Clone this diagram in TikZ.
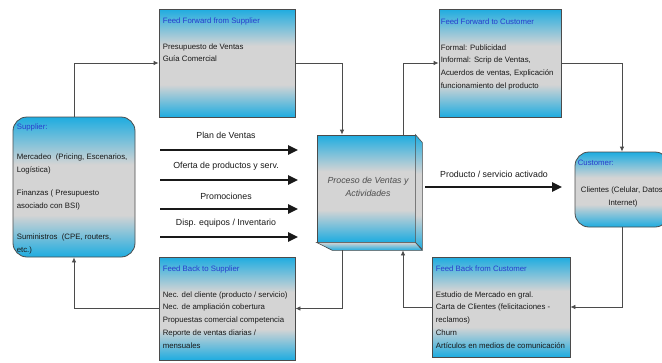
\documentclass[tikz,border=0pt]{standalone}
\usepackage{fontspec}
\setmainfont{Liberation Sans}
\usetikzlibrary{arrows.meta,calc}

\definecolor{boxcyan}{RGB}{30,172,224}
\definecolor{boxgray}{RGB}{212,212,212}
\definecolor{edge}{RGB}{75,75,75}
\definecolor{titleblue}{RGB}{40,60,205}
\definecolor{ink}{RGB}{25,25,25}

% cyan at both ends, a broad grey band in the middle
\pgfdeclareverticalshading{panelshade}{100bp}{%
  color(0bp)=(boxcyan); color(25bp)=(boxcyan);
  color(40bp)=(boxgray); color(58bp)=(boxgray);
  color(75bp)=(boxcyan); color(100bp)=(boxcyan)}

\begin{document}
\begin{tikzpicture}[x=1pt,y=-1pt,
  panel/.style={draw=edge, line width=0.8pt, shading=panelshade, inner sep=0pt},
  rpanel/.style={panel, rounded corners=14pt},
  txt/.style={font=\fontsize{7.8}{12.8}\selectfont, text=ink, align=left,
    inner sep=0pt, anchor=north west},
  flow/.style={draw=edge, line width=0.8pt, -{Latex[length=5pt,width=4.5pt]}},
  bigflow/.style={draw=ink, line width=2.4pt,
    -{Triangle[length=10pt,width=9pt]}},
  lbl/.style={font=\fontsize{8.8}{10}\selectfont, text=ink, inner sep=0pt}]

\useasboundingbox (0,0) rectangle (662,362);
\clip (0,0) rectangle (662,362);
\fill[white] (0,0) rectangle (662,362);

% ---- panels ----
\node[rpanel, minimum width=122pt, minimum height=140pt] (sup) at (74,187) {};
\node[panel, minimum width=136pt, minimum height=108pt] (ffs) at (227,63) {};
\node[panel, minimum width=136pt, minimum height=103pt] (fbs) at (227,308.5) {};
\node[panel, minimum width=122pt, minimum height=108pt] (ffc) at (500,63) {};
\node[panel, minimum width=138pt, minimum height=100pt] (fbc) at (501,307) {};
\node[rpanel, minimum width=94pt, minimum height=75pt] (cust) at (622,189.5) {};

% ---- process block with depth ----
\node[panel, minimum width=98pt, minimum height=107pt] (proc) at (366,188.5) {};
\shade[draw=edge, line width=0.6pt, shading=panelshade]
  (proc.north east) -- ++(7,8) -- ++(0,107) -- (proc.south east) -- cycle;
\shade[draw=edge, line width=0.6pt, top color=boxgray, bottom color=boxcyan]
  (proc.south west) -- (proc.south east) -- ++(7,8) -- ++(-90,0) -- cycle;
\node[font=\fontsize{8.8}{13}\selectfont\itshape, text=black!70, align=center]
  (proc-t) at (368,187) {Proceso de Ventas y\\Actividades};

% ---- panel texts ----
\node[txt] (sup-t) at ([shift={(4,7)}]sup.north west)
  {\textcolor{titleblue}{Supplier:}\\[17pt]
   Mercadeo\ \ (Pricing, Escenarios,\\
   Logística)\\[11pt]
   Finanzas ( Presupuesto\\
   asociado con BSI)\\[18pt]
   Suministros\ \ (CPE, routers,\\
   etc.)};

\node[txt] (ffs-t) at ([shift={(4,9)}]ffs.north west)
  {\textcolor{titleblue}{Feed Forward from Supplier}\\[12.8pt]
   Presupuesto de Ventas\\
   Guía Comercial};

\node[txt] (fbs-t) at ([shift={(4,9)}]fbs.north west)
  {\textcolor{titleblue}{Feed Back to Supplier}\\[12.8pt]
   Nec. del cliente (producto / servicio)\\
   Nec. de ampliación cobertura\\
   Propuestas comercial competencia\\
   Reporte de ventas diarias /\\
   mensuales};

\node[txt] (ffc-t) at ([shift={(2,10)}]ffc.north west)
  {\textcolor{titleblue}{Feed Forward to Customer}\\[12.8pt]
   Formal: Publicidad\\
   Informal: Scrip de Ventas,\\
   Acuerdos de ventas, Explicación\\
   funcionamiento del producto};

\node[txt] (fbc-t) at ([shift={(4,9)}]fbc.north west)
  {\textcolor{titleblue}{Feed Back from Customer}\\[12.8pt]
   Estudio de Mercado en gral.\\
   Carta de Clientes (felicitaciones -\\
   reclamos)\\
   Churn\\
   Artículos en medios de comunicación};

\node[txt] (cust-t) at ([shift={(3,8)}]cust.north west)
  {\textcolor{titleblue}{Customer:}};
\node[font=\fontsize{7.8}{12.8}\selectfont, text=ink, align=center, inner sep=0pt]
  (cust-b) at (623,197) {Clientes (Celular, Datos,\\Internet)};

% ---- loop connectors ----
\coordinate (pin-top) at ([shift={(-24,0)}]proc.north);
\coordinate (pout-top) at ([shift={(37,0)}]proc.north);
\coordinate (pin-bot) at ([shift={(37,8)}]proc.south);
\coordinate (pout-bot) at ([shift={(-24,8)}]proc.south);

\draw[flow] (sup.north) |- (ffs.west);
\draw[flow] (ffs.east) -| (pin-top);
\draw[flow] (pout-top) |- (ffc.west);
\draw[flow] (ffc.east) -| (cust.north);
\draw[flow] (cust.south) |- (fbc.east);
\draw[flow] (fbc.west) -| (pin-bot);
\draw[flow] (pout-bot) |- (fbs.east);
\draw[flow] (fbs.west) -| (sup.south);

% ---- inputs to the process ----
\coordinate (a1s) at (160,150); \coordinate (a1e) at (298,150);
\coordinate (a2s) at (160,180); \coordinate (a2e) at (298,180);
\coordinate (a3s) at (160,209); \coordinate (a3e) at (298,209);
\coordinate (a4s) at (160,237); \coordinate (a4e) at (298,237);
\draw[bigflow] (a1s) -- (a1e);
\draw[bigflow] (a2s) -- (a2e);
\draw[bigflow] (a3s) -- (a3e);
\draw[bigflow] (a4s) -- (a4e);
\node[lbl] (l1) at (226,135) {Plan de Ventas};
\node[lbl] (l2) at (226,166) {Oferta de productos y serv.};
\node[lbl] (l3) at (226,196) {Promociones};
\node[lbl] (l4) at (226,223) {Disp. equipos / Inventario};

% ---- output to the customer ----
\coordinate (ps) at (425,187);
\coordinate (pe) at (562,187);
\draw[bigflow] (ps) -- (pe);
\node[lbl] (lp) at (494,174) {Producto / servicio activado};

\end{tikzpicture}
\end{document}
